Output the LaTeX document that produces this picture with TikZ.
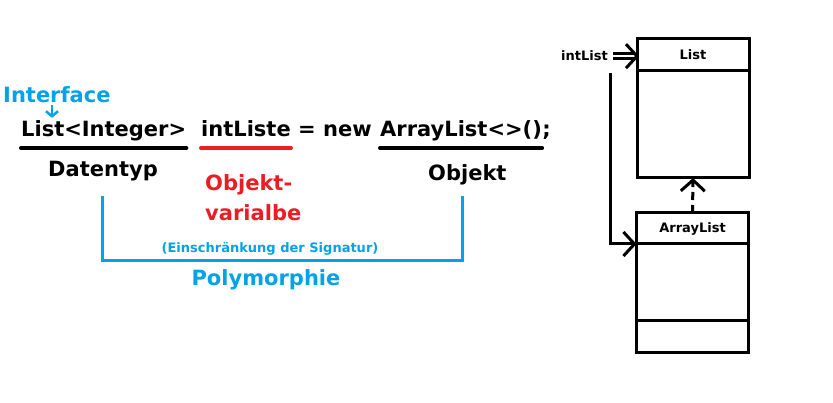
\documentclass[tikz,border=0pt]{standalone}
\usepackage{fontspec}
\setmainfont{DejaVu Sans}
\usepackage{tikz}
\usetikzlibrary{arrows.meta,positioning}
\definecolor{paintblue}{RGB}{0,162,232}
\definecolor{paintred}{RGB}{237,28,36}

\begin{document}
\begin{tikzpicture}[x=1pt,y=1pt,inner sep=0pt,
  code/.style={font=\fontsize{21pt}{30pt}\selectfont\bfseries,anchor=base west},
  small/.style={font=\fontsize{13pt}{15pt}\selectfont\bfseries},
  umlbox/.style={draw,line width=3pt,minimum width=112pt,outer sep=0pt,
    font=\fontsize{13pt}{15pt}\selectfont\bfseries},
  barb/.style={line width=3pt,-{Straight Barb[length=11pt,width=24pt,line width=3pt]}},
  uline/.style={line width=4pt,line cap=round}]
  \useasboundingbox (0,0) rectangle (833,402);

  % code line
  \node[code] (dtype) at (21,265) {List<Integer>};
  \node[code] (var)   at (201,265) {intListe};
  \node[code] (eqnew) at (298,265) {= new};
  \node[code] (obj)   at (380,265) {ArrayList<>()};
  \node[code] (semi)  at (obj.base east) {;};

  \draw[uline] ([yshift=-11pt]dtype.base west) -- ([yshift=-11pt]dtype.base east);
  \draw[uline,paintred] ([yshift=-11pt]var.base west) -- ([yshift=-11pt]var.base east);
  \draw[uline] ([yshift=-11pt]obj.base west) -- ([yshift=-11pt]obj.base east);

  % labels
  \node[code,paintblue] (iface) at (3,299) {Interface};
  \draw[paintblue,line width=2.5pt,-{Straight Barb[length=5pt,width=12pt,line width=2.5pt]}]
    ([xshift=49pt,yshift=-2pt]iface.south west) -- ([xshift=31pt,yshift=3pt]dtype.north west);
  \node[code] (dt) at (48,225) {Datentyp};
  \node[code,paintred,anchor=north west,align=left] (ovar) at (205,228) {Objekt-\\varialbe};
  \node[code] (ob) at (428,221) {Objekt};

  % Polymorphie bracket
  \coordinate (bl) at ([yshift=-14pt]dt.south);
  \coordinate (br) at ([xshift=-5pt,yshift=-10pt]ob.south);
  \draw[paintblue,line width=3pt] (bl) -- ++(0,-65) -| (br);
  \node[font=\fontsize{13pt}{15pt}\selectfont\bfseries,paintblue,anchor=base] (sig) at (270,149)
    {(Einschränkung der Signatur)};
  \node[code,paintblue,anchor=base] (poly) at (266,117) {Polymorphie};

  % UML
  \node[umlbox,minimum height=32pt] (list) at (693,347) {List};
  \node[umlbox,minimum height=107pt,below=0pt of list] (listb) {};
  \node[umlbox,minimum height=31pt] (alist) at (692.5,173.5) {ArrayList};
  \node[umlbox,minimum height=76pt,below=0pt of alist] (alistb) {};
  \node[umlbox,minimum height=32pt,below=0pt of alistb] (alistf) {};

  \node[small,anchor=base east] (intl) at (608,341) {intList};
  \coordinate (tipA) at (intl.east -| list.west);
  \draw[line width=2.5pt,double=white,double distance=2.5pt,shorten >=3pt]
    ([xshift=5pt]intl.east) -- (tipA);
  \draw[line width=3pt] ([shift={(-11pt,12pt)}]tipA) -- (tipA) -- ([shift={(-11pt,-12pt)}]tipA);
  \draw[barb] ([xshift=2pt,yshift=-12pt]intl.south east) |- (alist.south west);
  \draw[barb,dash pattern=on 8pt off 5pt] (alist.north) -- (listb.south);
\end{tikzpicture}
\end{document}
